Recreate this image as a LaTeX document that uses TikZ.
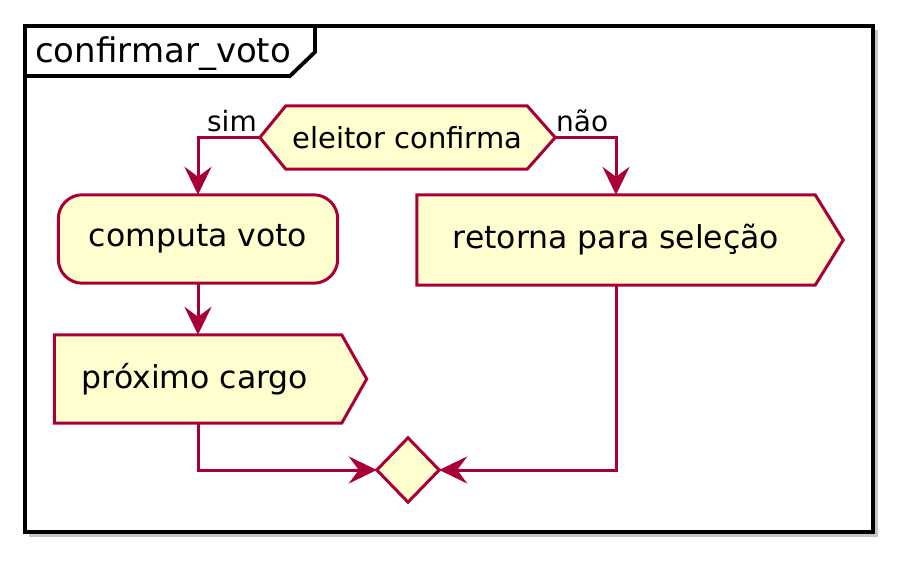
\documentclass[tikz,border=0pt]{standalone}
\usepackage{fontspec}
\setmainfont{DejaVu Sans}
\usetikzlibrary{arrows.meta,calc}
\definecolor{plborder}{HTML}{A80036}
\definecolor{plfill}{HTML}{FEFECE}
\definecolor{plshadow}{gray}{0.5}
\pgfdeclarelayer{framelayer}
\pgfdeclarelayer{shapelayer}
\pgfsetlayers{framelayer,shapelayer,main}
\begin{document}
\begin{tikzpicture}[x=1pt,y=-1pt,
  outline/.style={draw=plborder, fill=plfill, line width=3pt, line join=miter},
  shade1/.style={fill=plshadow, opacity=0.28, draw=none},
  holder/.style={draw=none, inner sep=0pt, font=\fontsize{31.5}{36}\selectfont},
  flow/.style={draw=plborder, line width=3pt, -{Stealth[length=28pt,width=27pt,inset=10pt]}},
  lbl/.style={inner sep=0pt, font=\fontsize{28}{32}\selectfont},
  ttl/.style={inner sep=0pt, font=\fontsize{34}{40}\selectfont}
]
\useasboundingbox (0,0) rectangle (913,572);

% nodes
\node[ttl, anchor=base west] (title) at (35,63) {confirmar\_voto};
\node[holder, minimum width=295pt, minimum height=63pt, font=\fontsize{29}{34}\selectfont] (dec) at (407.5,137.5) {eleitor confirma};
\node[holder, minimum width=279pt, minimum height=88pt] (comp) at (198,239) {computa voto};
\node[holder, minimum width=287pt, minimum height=88pt] (prox) at (198,379) {\hspace*{-6pt}próximo cargo};
\node[holder, minimum width=398pt, minimum height=90pt] (ret) at (616,240) {retorna para seleção};
\node[draw=none, inner sep=0pt, minimum width=62pt, minimum height=64pt] (merge) at (408,470) {};
\node[lbl, anchor=base east] (simlbl) at (257,132) {sim};
\node[lbl, anchor=base west] (naolbl) at (556,132) {não};

% frame
\begin{pgfonlayer}{framelayer}
  \fill[plshadow, opacity=0.45] (29,30) rectangle (878,537);
  \fill[white] (25,26) rectangle (873,532);
  \draw[line width=4.2pt] (25,26) rectangle (873,532);
  \draw[line width=3.8pt, line join=miter] (25,76) -- (290,76) -- (315,52) -- (315,26);
\end{pgfonlayer}

% shapes
\begin{pgfonlayer}{shapelayer}
  % decision hexagon
  \foreach \s in {3,5,7}{
    \fill[shade1, shift={(\s,\s)}] (dec.west) -- ($(dec.north west)+(26,0)$) -- ($(dec.north east)+(-28,0)$) -- (dec.east) -- ($(dec.south east)+(-28,0)$) -- ($(dec.south west)+(26,0)$) -- cycle;}
  \draw[outline] (dec.west) -- ($(dec.north west)+(26,0)$) -- ($(dec.north east)+(-28,0)$) -- (dec.east) -- ($(dec.south east)+(-28,0)$) -- ($(dec.south west)+(26,0)$) -- cycle;
  % computa voto
  \foreach \s in {3,5,7}{
    \fill[shade1, shift={(\s,\s)}, rounded corners=24pt] (comp.north west) rectangle (comp.south east);}
  \draw[outline, rounded corners=24pt] (comp.north west) rectangle (comp.south east);
  % proximo cargo
  \foreach \s in {3,5,7}{
    \fill[shade1, shift={(\s,\s)}] (prox.north west) -- (prox.north east) -- ($(prox.east)+(25,0)$) -- (prox.south east) -- (prox.south west) -- cycle;}
  \draw[outline] (prox.north west) -- (prox.north east) -- ($(prox.east)+(25,0)$) -- (prox.south east) -- (prox.south west) -- cycle;
  % retorna
  \foreach \s in {3,5,7}{
    \fill[shade1, shift={(\s,\s)}] (ret.north west) -- (ret.north east) -- ($(ret.east)+(28,0)$) -- (ret.south east) -- (ret.south west) -- cycle;}
  \draw[outline] (ret.north west) -- (ret.north east) -- ($(ret.east)+(28,0)$) -- (ret.south east) -- (ret.south west) -- cycle;
  % merge diamond
  \foreach \s in {3,5,7}{
    \fill[shade1, shift={(\s,\s)}] (merge.north) -- (merge.east) -- (merge.south) -- (merge.west) -- cycle;}
  \draw[outline] (merge.north) -- (merge.east) -- (merge.south) -- (merge.west) -- cycle;
\end{pgfonlayer}

% connectors
\draw[flow] (dec.west) -| (comp.north);
\draw[flow] (dec.east) -| (ret.north);
\draw[flow] (comp.south) -- (prox.north);
\draw[flow] (prox.south) |- (merge.west);
\draw[flow] (ret.south) |- (merge.east);
\end{tikzpicture}
\end{document}
